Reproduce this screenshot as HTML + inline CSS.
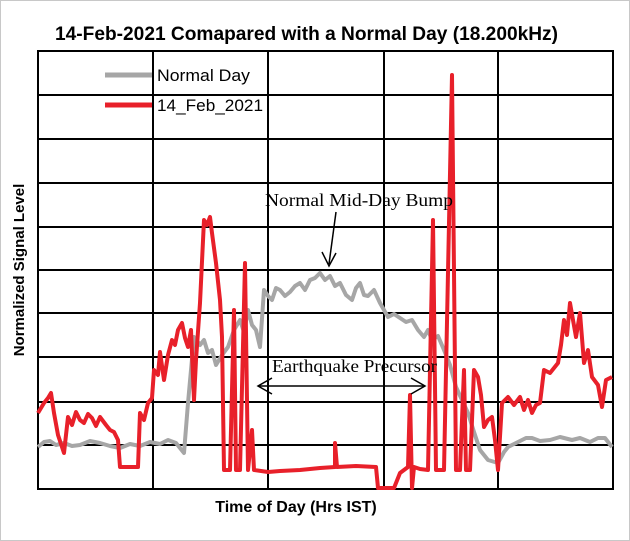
<!DOCTYPE html>
<html><head><meta charset="utf-8"><style>
html,body{margin:0;padding:0;background:#fff;}
svg{display:block;}
</style></head><body>
<svg width="630" height="541" viewBox="0 0 630 541" xmlns="http://www.w3.org/2000/svg">
<rect x="0.5" y="0.5" width="629" height="540" fill="#fff" stroke="#c8c8c8"/>
<text x="55" y="40" textLength="503" lengthAdjust="spacingAndGlyphs" font-family="Liberation Sans, sans-serif" font-weight="bold" font-size="19">14-Feb-2021 Comapared with a Normal Day (18.200kHz)</text>
<g stroke="#000" stroke-width="2" fill="none">
<rect x="38" y="51" width="575" height="438"/>
<line x1="153" y1="51" x2="153" y2="489"/><line x1="268" y1="51" x2="268" y2="489"/>
<line x1="384" y1="51" x2="384" y2="489"/><line x1="498" y1="51" x2="498" y2="489"/>
<line x1="38" y1="95" x2="613" y2="95"/><line x1="38" y1="139" x2="613" y2="139"/>
<line x1="38" y1="183" x2="613" y2="183"/><line x1="38" y1="227" x2="613" y2="227"/>
<line x1="38" y1="270" x2="613" y2="270"/><line x1="38" y1="313" x2="613" y2="313"/>
<line x1="38" y1="357" x2="613" y2="357"/><line x1="38" y1="402" x2="613" y2="402"/>
<line x1="38" y1="445" x2="613" y2="445"/>
</g>
<polyline fill="none" stroke="#a6a6a6" stroke-width="4" stroke-linejoin="round" points="38,447 44,442 50,441 56,445 64,443 72,446 80,445 90,441 100,443 110,446 120,448 130,444 140,446 150,442 160,444 168,440 176,443 184,453 188,403 194,337 200,345 204,340 208,353 212,350 216,365 222,355 228,347 234,330 240,320 244,332 248,310 252,325 256,330 260,347 264,290 268,296 272,300 276,288 280,290 285,296 290,292 295,286 300,283 305,290 310,280 315,278 320,273 325,280 330,276 335,286 340,283 346,295 352,300 356,288 360,283 364,295 368,296 374,290 380,303 388,317 394,314 400,318 406,322 412,320 418,330 424,337 428,330 432,340 438,336 444,350 450,365 456,387 462,400 468,413 474,432 480,450 488,460 498,463 504,452 508,447 514,444 520,441 526,438 532,438 540,441 550,440 560,437 572,440 580,438 590,442 598,438 605,438 612,447"/>
<polyline fill="none" stroke="#e8202a" stroke-width="4" stroke-linejoin="round" points="38,413 44,403 48,398 51,393 54,413 58,435 64,453 68,417 72,425 76,412 80,420 84,423 88,414 92,418 96,426 100,417 106,425 110,430 114,432 118,440 120,467 138,467 140,413 144,420 148,403 152,398 154,370 158,375 160,352 164,380 168,355 172,340 175,345 178,330 182,323 185,338 188,347 191,330 194,400 196,360 200,303 204,220 207,225 210,217 212,233 216,263 220,300 222,337 224,470 230,470 234,310 236,470 240,470 245,263 248,470 252,430 254,470 268,472 280,471 300,470 310,469 320,468 335,467 335,443 337,467 356,466 376,467 378,488 394,488 400,473 408,467 410,395 412,488 414,467 420,469 428,470 433,220 436,470 444,470 452,75 456,470 460,470 464,370 466,470 470,470 474,370 478,377 481,395 484,427 488,420 492,417 495,440 498,470 502,403 508,397 514,405 520,397 524,410 528,400 532,413 536,405 540,403 544,370 550,373 558,363 561,345 564,320 567,335 570,303 573,320 576,337 580,313 584,363 588,350 592,377 598,385 602,407 606,380 612,377"/>
<line x1="105" y1="75" x2="152" y2="75" stroke="#a6a6a6" stroke-width="5"/>
<line x1="105" y1="105" x2="152" y2="105" stroke="#e8202a" stroke-width="5"/>
<text x="157" y="81" textLength="93" lengthAdjust="spacingAndGlyphs" font-family="Liberation Sans, sans-serif" font-size="17">Normal Day</text>
<text x="157" y="111" textLength="106" lengthAdjust="spacingAndGlyphs" font-family="Liberation Sans, sans-serif" font-size="17">14_Feb_2021</text>
<text x="265" y="206" textLength="188" lengthAdjust="spacingAndGlyphs" font-family="Liberation Serif, serif" font-size="18">Normal Mid-Day Bump</text>
<line x1="336" y1="212" x2="329" y2="264" stroke="#000" stroke-width="1.5"/>
<polyline points="322,252 329,266 336,253" fill="none" stroke="#000" stroke-width="1.5"/>
<text x="272" y="372" textLength="165" lengthAdjust="spacingAndGlyphs" font-family="Liberation Serif, serif" font-size="18">Earthquake Precursor</text>
<line x1="258" y1="386" x2="425" y2="386" stroke="#000" stroke-width="1.5"/>
<polyline points="272,378 258,386 272,394" fill="none" stroke="#000" stroke-width="1.5"/>
<polyline points="411,378 425,386 411,394" fill="none" stroke="#000" stroke-width="1.5"/>
<text x="296" y="512" text-anchor="middle" font-family="Liberation Sans, sans-serif" font-weight="bold" font-size="16">Time of Day (Hrs IST)</text>
<text transform="translate(24,270) rotate(-90)" text-anchor="middle" font-family="Liberation Sans, sans-serif" font-weight="bold" font-size="15">Normalized Signal Level</text>
</svg>
</body></html>
